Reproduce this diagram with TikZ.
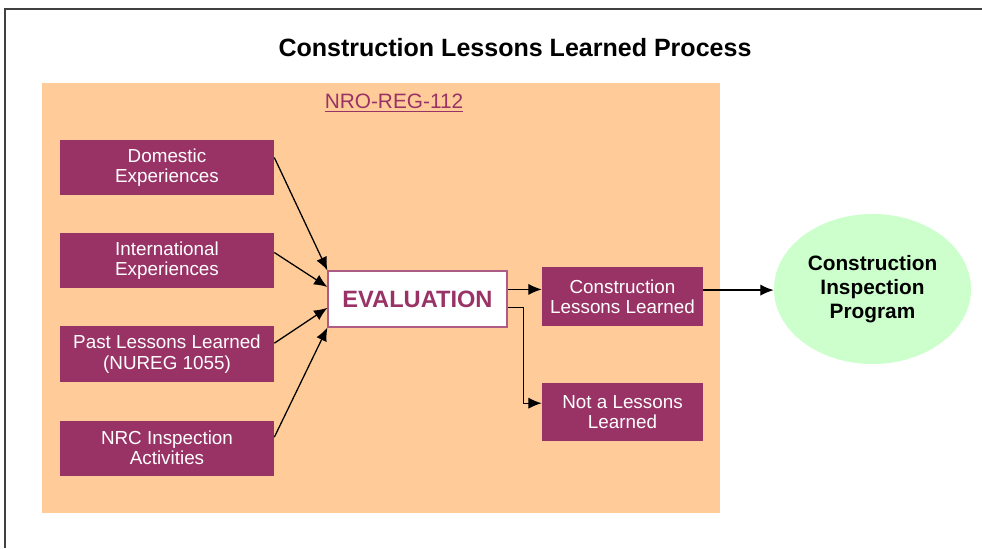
\documentclass[tikz,border=0pt]{standalone}
\usepackage{fontspec}
\setmainfont{Liberation Sans}
\usepackage{tikz}
\usetikzlibrary{positioning}
\usetikzlibrary{shapes,arrows.meta}

\definecolor{peach}{HTML}{FFCC99}
\definecolor{plum}{HTML}{993366}
\definecolor{mint}{HTML}{CCFFCC}

\tikzset{srcbox/.style={fill=plum, text=white, inner sep=0pt, align=center,
    minimum width=5.35cm, minimum height=1.375cm,
    font=\fontsize{13.4}{14.5}\selectfont}}
\tikzset{outbox/.style={srcbox, minimum width=4.025cm, minimum height=1.45cm}}
\tikzset{evalbox/.style={draw=plum!80, line width=0.8pt, fill=white, text=plum,
    minimum width=4.475cm, minimum height=1.4cm, inner sep=0pt,
    font=\fontsize{16.8}{18}\selectfont\bfseries}}
\tikzset{flow/.style={-{Latex[length=9.5pt,width=8pt]}, line width=0.9pt}}

\begin{document}
\begin{tikzpicture}[x=0.025cm,y=-0.025cm]
\useasboundingbox (0,0) rectangle (982,548);
\draw[line width=1.4pt, black!75] (5,548) -- (5,9) -- (982,9);
\node (title) at (515,48) {\fontsize{17.8}{20}\selectfont\bfseries Construction Lessons Learned Process};
\fill[peach] (42,83) rectangle (720,513);
\node[text=plum, font=\fontsize{14.8}{16}\selectfont] (reg) at (394,103) {\underline{NRO-REG-112}};

% inputs
\node[srcbox] (dom) at (167,167.5) {Domestic\\Experiences};
\node[srcbox] (intl) at (167,260.5) {International\\Experiences};
\node[srcbox] (past) at (167,354) {Past Lessons Learned\\(NUREG 1055)};
\node[srcbox] (nrc) at (167,448) {NRC Inspection\\Activities};

\node[evalbox] (eval) at (417.5,299) {EVALUATION};

% outputs
\node[outbox] (cll) at (622.5,296.5) {Construction\\Lessons Learned};
\node[outbox] (nll) at (622.5,412) {Not a Lessons\\Learned};
\node[ellipse, fill=mint, minimum width=4.925cm, minimum height=3.75cm, inner sep=0pt,
      align=center, font=\fontsize{14.8}{17}\selectfont\bfseries] (cip) at (872.5,289)
      {Construction\\Inspection\\Program};

\draw[flow] ([yshift=0.25cm]dom.east) -- (eval.north west);
\draw[flow] ([yshift=0.2cm]intl.east) -- ([yshift=0.3cm]eval.west);
\draw[flow] ([yshift=0.27cm]past.east) -- ([yshift=-0.22cm]eval.west);
\draw[flow] ([yshift=0.27cm]nrc.east) -- (eval.south west);

\coordinate (e1) at ([yshift=0.24cm]eval.east);
\coordinate (e2) at ([yshift=-0.22cm]eval.east);
\draw[flow] (e1) -- (e1 -| cll.west);
\draw[flow] (e2) -- ++(0.4cm,0) |- ([yshift=0.22cm]nll.west);
\coordinate (c1) at ([yshift=0.16cm]cll.east);
\draw[flow] (c1) -- (c1 -| cip.west);
\end{tikzpicture}
\end{document}
